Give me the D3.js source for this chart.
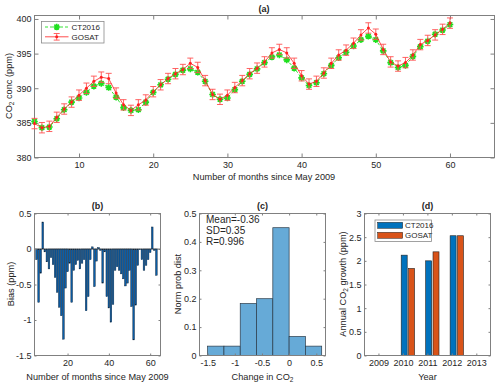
<!DOCTYPE html>
<html>
<head>
<meta charset="utf-8">
<script src="https://cdn.jsdelivr.net/npm/d3@7"></script>
<style>
  body { margin: 0; background: #fff; }
  text { font-family: "Liberation Sans", Arial, sans-serif; fill: #262626; }
</style>
</head>
<body>
<script>
// (a) monthly CO2, months since May 2009
var months = [4,5,6,7,8,9,10,11,12,13,14,15,16,17,18,19,20,21,22,23,24,25,26,27,28,29,30,31,32,
  33,34,35,36,37,38,39,40,41,42,43,44,45,46,47,48,49,50,51,52,53,54,55,56,57,58,59,60];
var gosat = [384.9,384.3,384.5,385.8,387.0,388.0,389.0,390.0,391.0,391.6,
  391.4,389.3,387.6,386.8,387.6,388.3,389.5,390.5,391.4,392.1,
  392.7,393.6,393.0,391.1,389.1,388.4,389.0,390.1,391.1,392.1,
  392.9,393.8,395.1,395.6,395.1,393.6,391.8,390.6,391.0,392.2,
  393.6,394.8,395.5,396.5,397.7,398.7,397.8,395.6,393.8,393.2,
  393.7,394.8,396.3,396.9,397.7,398.5,399.4];
var ct2016 = [385.2,384.3,384.4,385.6,386.9,388.0,388.6,389.4,390.3,390.7,
  390.1,388.7,387.2,386.8,386.9,388.0,389.4,390.5,391.3,392.0,
  392.6,392.8,392.3,391.0,389.1,388.4,388.6,389.8,391.0,392.0,
  392.8,393.7,394.5,394.8,394.1,392.9,391.5,390.4,390.8,392.1,
  393.3,394.4,395.2,396.1,397.0,397.5,397.0,395.4,393.7,393.0,
  393.3,394.6,396.0,396.8,397.8,398.4,399.2];
var gosatErr = 0.75;

// (b) bias per month
var biasMonths = [5,6,7,8,9,10,11,12,13,14,15,16,17,18,19,20,21,22,23,24,25,26,27,28,29,30,31,32,33,34,
  35,36,37,38,39,40,41,42,43,44,45,46,47,48,49,50,51,52,53,54,55,56,57,58,59,60,61,62,63];
var bias = [-0.15,-0.75,-0.34,0.38,-0.04,-0.18,-0.28,-0.12,-0.22,-0.40,
  -0.61,-0.82,-0.94,-1.27,-0.55,-0.32,-0.20,-0.75,-0.30,-0.22,
  -0.16,-0.28,-0.20,-0.15,-0.87,-0.67,-0.15,0.03,-0.53,-0.17,
  0.02,-0.02,-0.48,-0.04,-0.67,-0.83,-1.03,-0.78,-0.30,-0.25,
  -0.30,-0.35,-0.42,-0.52,-0.48,-0.30,-0.81,-1.28,-0.79,-0.23,
  -0.01,-0.15,-0.30,-0.23,-0.15,-0.05,0.31,-0.02,-0.37];

// (c) histogram of change
var histEdges = [-1.5,-1.2,-0.9,-0.6,-0.3,0,0.3,0.6];
var histDensity = [0.033,0.033,0.183,0.2,0.45,0.067,0.033];
var statLines = ['Mean=-0.36', 'SD=0.35', 'R=0.996'];

// (d) annual growth
var years = [2009,2010,2011,2012,2013];
var growthYears = [2010,2011,2012];
var ctGrowth = [2.12,2.00,2.53];
var gosatGrowth = [1.84,2.19,2.53];

var svg = d3.select('body').append('svg')
  .attr('width', 500)
  .attr('height', 383);

var axisColor = '#808080';

// box with inward ticks on all four sides
function frame(x, y, xTicks, yTicks, xFmt, yFmt, tick) {
  var g = svg.append('g');
  var x0 = x.range()[0], x1 = x.range()[1];
  var y0 = y.range()[1], y1 = y.range()[0];
  g.append('g').attr('transform', 'translate(0,' + y1 + ')')
    .call(d3.axisBottom(x).tickValues(xTicks).tickFormat(xFmt).tickSizeInner(-tick).tickSizeOuter(0).tickPadding(4));
  g.append('g').attr('transform', 'translate(0,' + y0 + ')')
    .call(d3.axisTop(x).tickValues(xTicks).tickFormat('').tickSizeInner(-tick).tickSizeOuter(0));
  g.append('g').attr('transform', 'translate(' + x0 + ',0)')
    .call(d3.axisLeft(y).tickValues(yTicks).tickFormat(yFmt).tickSizeInner(-tick).tickSizeOuter(0).tickPadding(3));
  g.append('g').attr('transform', 'translate(' + x1 + ',0)')
    .call(d3.axisRight(y).tickValues(yTicks).tickFormat('').tickSizeInner(-tick).tickSizeOuter(0));
  g.selectAll('.domain').remove();
  g.selectAll('.tick line').attr('stroke', axisColor);
  g.selectAll('.tick text').style('font-size', '9px').attr('fill', '#262626');
  g.append('rect')
    .attr('x', x0).attr('y', y0)
    .attr('width', x1 - x0).attr('height', y1 - y0)
    .attr('fill', 'none').attr('stroke', axisColor);
  return g;
}

function title(txt, cx, yy) {
  svg.append('text').attr('x', cx).attr('y', yy)
    .attr('text-anchor', 'middle').style('font-size', '9px').style('font-weight', 'bold')
    .text(txt);
}

function xLabel(cx, yy, parts) {
  var t = svg.append('text').attr('x', cx).attr('y', yy)
    .attr('text-anchor', 'middle').style('font-size', '9.2px');
  addParts(t, parts);
}

function yLabel(cx, cy, parts) {
  var t = svg.append('text')
    .attr('transform', 'translate(' + cx + ',' + cy + ') rotate(-90)')
    .attr('text-anchor', 'middle').style('font-size', '9.2px');
  addParts(t, parts);
}

// parts: [text, isSubscript]
function addParts(t, parts) {
  var sub = false;
  parts.forEach(function(p) {
    var s = t.append('tspan').text(p[0]);
    if (p[1]) { s.attr('dy', 2).style('font-size', '6.5px'); sub = true; }
    else if (sub) { s.attr('dy', -2); sub = false; }
  });
}

var fmt = function(d) { return String(d); };

// ---------- (a) ----------
var xA = d3.scaleLinear().domain([4, 66]).range([34.5, 494.5]);
var yA = d3.scaleLinear().domain([380, 400.5]).range([157.5, 15.5]);
frame(xA, yA, [10,20,30,40,50,60], [380,385,390,395,400], fmt, fmt, 4);
title('(a)', 264, 11.5);
xLabel(264, 179.5, [['Number of months since May 2009']]);
yLabel(11.5, 86, [['CO'], ['2', true], [' conc (ppm)']]);

var green = '#1fe01f';
var red = '#ff2020';

var lineA = d3.line().x(function(d) { return xA(d[0]); }).y(function(d) { return yA(d[1]); });

function asterisk(sel, r) {
  sel.append('path')
    .attr('d', 'M' + (-r) + ',0H' + r + 'M0,' + (-r) + 'V' + r +
      'M' + (-r * 0.7) + ',' + (-r * 0.7) + 'L' + (r * 0.7) + ',' + (r * 0.7) +
      'M' + (-r * 0.7) + ',' + (r * 0.7) + 'L' + (r * 0.7) + ',' + (-r * 0.7))
    .attr('stroke', green).attr('stroke-width', 1.6).attr('fill', 'none');
  sel.append('circle').attr('r', r * 0.55).attr('fill', green);
}

var ctPts = months.map(function(m, i) { return [m, ct2016[i]]; });
var goPts = months.map(function(m, i) { return [m, gosat[i]]; });

svg.append('path').datum(ctPts).attr('d', lineA)
  .attr('fill', 'none').attr('stroke', green).attr('stroke-width', 0.9)
  .attr('stroke-dasharray', '3,2');
svg.selectAll('.ctm').data(ctPts).enter().append('g')
  .attr('transform', function(d) { return 'translate(' + xA(d[0]) + ',' + yA(d[1]) + ')'; })
  .each(function() { asterisk(d3.select(this), 3.3); });

var errG = svg.append('g').attr('stroke', '#ff5050').attr('stroke-width', 0.9);
goPts.forEach(function(d) {
  var cx = xA(d[0]), top = yA(d[1] + gosatErr), bot = yA(d[1] - gosatErr);
  errG.append('line').attr('x1', cx).attr('x2', cx).attr('y1', top).attr('y2', bot);
  errG.append('line').attr('x1', cx - 3).attr('x2', cx + 3).attr('y1', top).attr('y2', top);
  errG.append('line').attr('x1', cx - 3).attr('x2', cx + 3).attr('y1', bot).attr('y2', bot);
});
svg.append('path').datum(goPts).attr('d', lineA)
  .attr('fill', 'none').attr('stroke', red).attr('stroke-width', 0.8);
svg.selectAll('.gom').data(goPts).enter().append('circle')
  .attr('cx', function(d) { return xA(d[0]); })
  .attr('cy', function(d) { return yA(d[1]); })
  .attr('r', 1.5).attr('fill', red);

// legend (a)
var legA = svg.append('g').attr('transform', 'translate(41.5,21.5)');
legA.append('rect').attr('width', 62.5).attr('height', 21.5)
  .attr('fill', '#fff').attr('stroke', '#8a8a8a').attr('stroke-width', 0.8);
legA.append('line').attr('x1', 3.5).attr('x2', 27).attr('y1', 5.5).attr('y2', 5.5)
  .attr('stroke', green).attr('stroke-width', 0.9).attr('stroke-dasharray', '3,2');
asterisk(legA.append('g').attr('transform', 'translate(15.2,5.5)'), 3.3);
legA.append('line').attr('x1', 3.5).attr('x2', 27).attr('y1', 15.3).attr('y2', 15.3)
  .attr('stroke', red).attr('stroke-width', 0.8);
legA.append('line').attr('x1', 15.2).attr('x2', 15.2).attr('y1', 12).attr('y2', 18.6)
  .attr('stroke', '#ff5050').attr('stroke-width', 0.9);
legA.append('line').attr('x1', 12.2).attr('x2', 18.2).attr('y1', 12).attr('y2', 12)
  .attr('stroke', '#ff5050').attr('stroke-width', 0.9);
legA.append('line').attr('x1', 12.2).attr('x2', 18.2).attr('y1', 18.6).attr('y2', 18.6)
  .attr('stroke', '#ff5050').attr('stroke-width', 0.9);
legA.append('circle').attr('cx', 15.2).attr('cy', 15.3).attr('r', 1.5).attr('fill', red);
legA.append('text').attr('x', 30).attr('y', 8.3).style('font-size', '8px').text('CT2016');
legA.append('text').attr('x', 30).attr('y', 18.1).style('font-size', '8px').text('GOSAT');

// ---------- (b) ----------
var xB = d3.scaleLinear().domain([4, 65]).range([34.5, 160.5]);
var yB = d3.scaleLinear().domain([-1.5, 0.5]).range([355.5, 213.5]);
var bw = xB(0.8) - xB(0);
svg.append('g').selectAll('rect').data(bias).enter().append('rect')
  .attr('x', function(d, i) { return xB(biasMonths[i]) - bw / 2; })
  .attr('y', function(d) { return yB(Math.max(0, d)); })
  .attr('width', bw)
  .attr('height', function(d) { return Math.abs(yB(d) - yB(0)); })
  .attr('fill', '#0b5ea8').attr('stroke', '#0d2238').attr('stroke-width', 0.45);
svg.append('line').attr('x1', 34.5).attr('x2', 160.5).attr('y1', yB(0)).attr('y2', yB(0))
  .attr('stroke', '#333').attr('stroke-width', 0.6);
frame(xB, yB, [20,40,60], [-1.5,-1,-0.5,0,0.5], fmt, fmt, 2);
title('(b)', 97.5, 208.5);
xLabel(97.5, 379.5, [['Number of months since May 2009']]);
yLabel(13.5, 284, [['Bias (ppm)']]);

// ---------- (c) ----------
var xC = d3.scaleLinear().domain([-1.65, 0.67]).range([199.5, 325.5]);
var yC = d3.scaleLinear().domain([0, 0.5]).range([355.5, 213.5]);
svg.append('g').selectAll('rect').data(histDensity).enter().append('rect')
  .attr('x', function(d, i) { return xC(histEdges[i]); })
  .attr('y', function(d) { return yC(d); })
  .attr('width', function(d, i) { return xC(histEdges[i + 1]) - xC(histEdges[i]); })
  .attr('height', function(d) { return yC(0) - yC(d); })
  .attr('fill', '#66aad7').attr('stroke', '#2a3a48').attr('stroke-width', 0.7);
frame(xC, yC, [-1.5,-1,-0.5,0,0.5], [0,0.1,0.2,0.3,0.4,0.5], fmt, fmt, 2);
title('(c)', 262.5, 208.5);
xLabel(262.5, 379.5, [['Change in CO'], ['2', true]]);
yLabel(181, 284, [['Norm prob dist']]);
statLines.forEach(function(s, i) {
  svg.append('text').attr('x', 206).attr('y', 222.5 + i * 11.3)
    .style('font-size', '10px').text(s);
});

// ---------- (d) ----------
var xD = d3.scaleLinear().domain([2008.43, 2013.58]).range([364.5, 490.5]);
var yD = d3.scaleLinear().domain([0, 3]).range([355.5, 213.5]);
var ctBar = [-0.07, 0.175], goBar = [0.23, 0.475];
function bars(vals, span, color) {
  svg.append('g').selectAll('rect').data(vals).enter().append('rect')
    .attr('x', function(d, i) { return xD(growthYears[i] + span[0]); })
    .attr('y', function(d) { return yD(d); })
    .attr('width', function(d, i) { return xD(growthYears[i] + span[1]) - xD(growthYears[i] + span[0]); })
    .attr('height', function(d) { return yD(0) - yD(d); })
    .attr('fill', color).attr('stroke', '#222').attr('stroke-width', 0.6);
}
bars(ctGrowth, ctBar, '#0072bd');
bars(gosatGrowth, goBar, '#d95319');
frame(xD, yD, years, [0,0.5,1,1.5,2,2.5,3], fmt, fmt, 2);
title('(d)', 427.5, 208.5);
xLabel(427.5, 379.5, [['Year']]);
yLabel(346, 284, [['Annual CO'], ['2', true], [' growth (ppm)']]);

var legD = svg.append('g').attr('transform', 'translate(375,220)');
legD.append('rect').attr('width', 56.5).attr('height', 21.5)
  .attr('fill', '#fff').attr('stroke', '#8a8a8a').attr('stroke-width', 0.8);
legD.append('rect').attr('x', 2.7).attr('y', 2.3).attr('width', 25).attr('height', 6)
  .attr('fill', '#0072bd').attr('stroke', '#222').attr('stroke-width', 0.5);
legD.append('rect').attr('x', 2.7).attr('y', 12.3).attr('width', 25).attr('height', 6)
  .attr('fill', '#d95319').attr('stroke', '#222').attr('stroke-width', 0.5);
legD.append('text').attr('x', 30).attr('y', 8.2).style('font-size', '8px').text('CT2016');
legD.append('text').attr('x', 30).attr('y', 18.2).style('font-size', '8px').text('GOSAT');
</script>
</body>
</html>
